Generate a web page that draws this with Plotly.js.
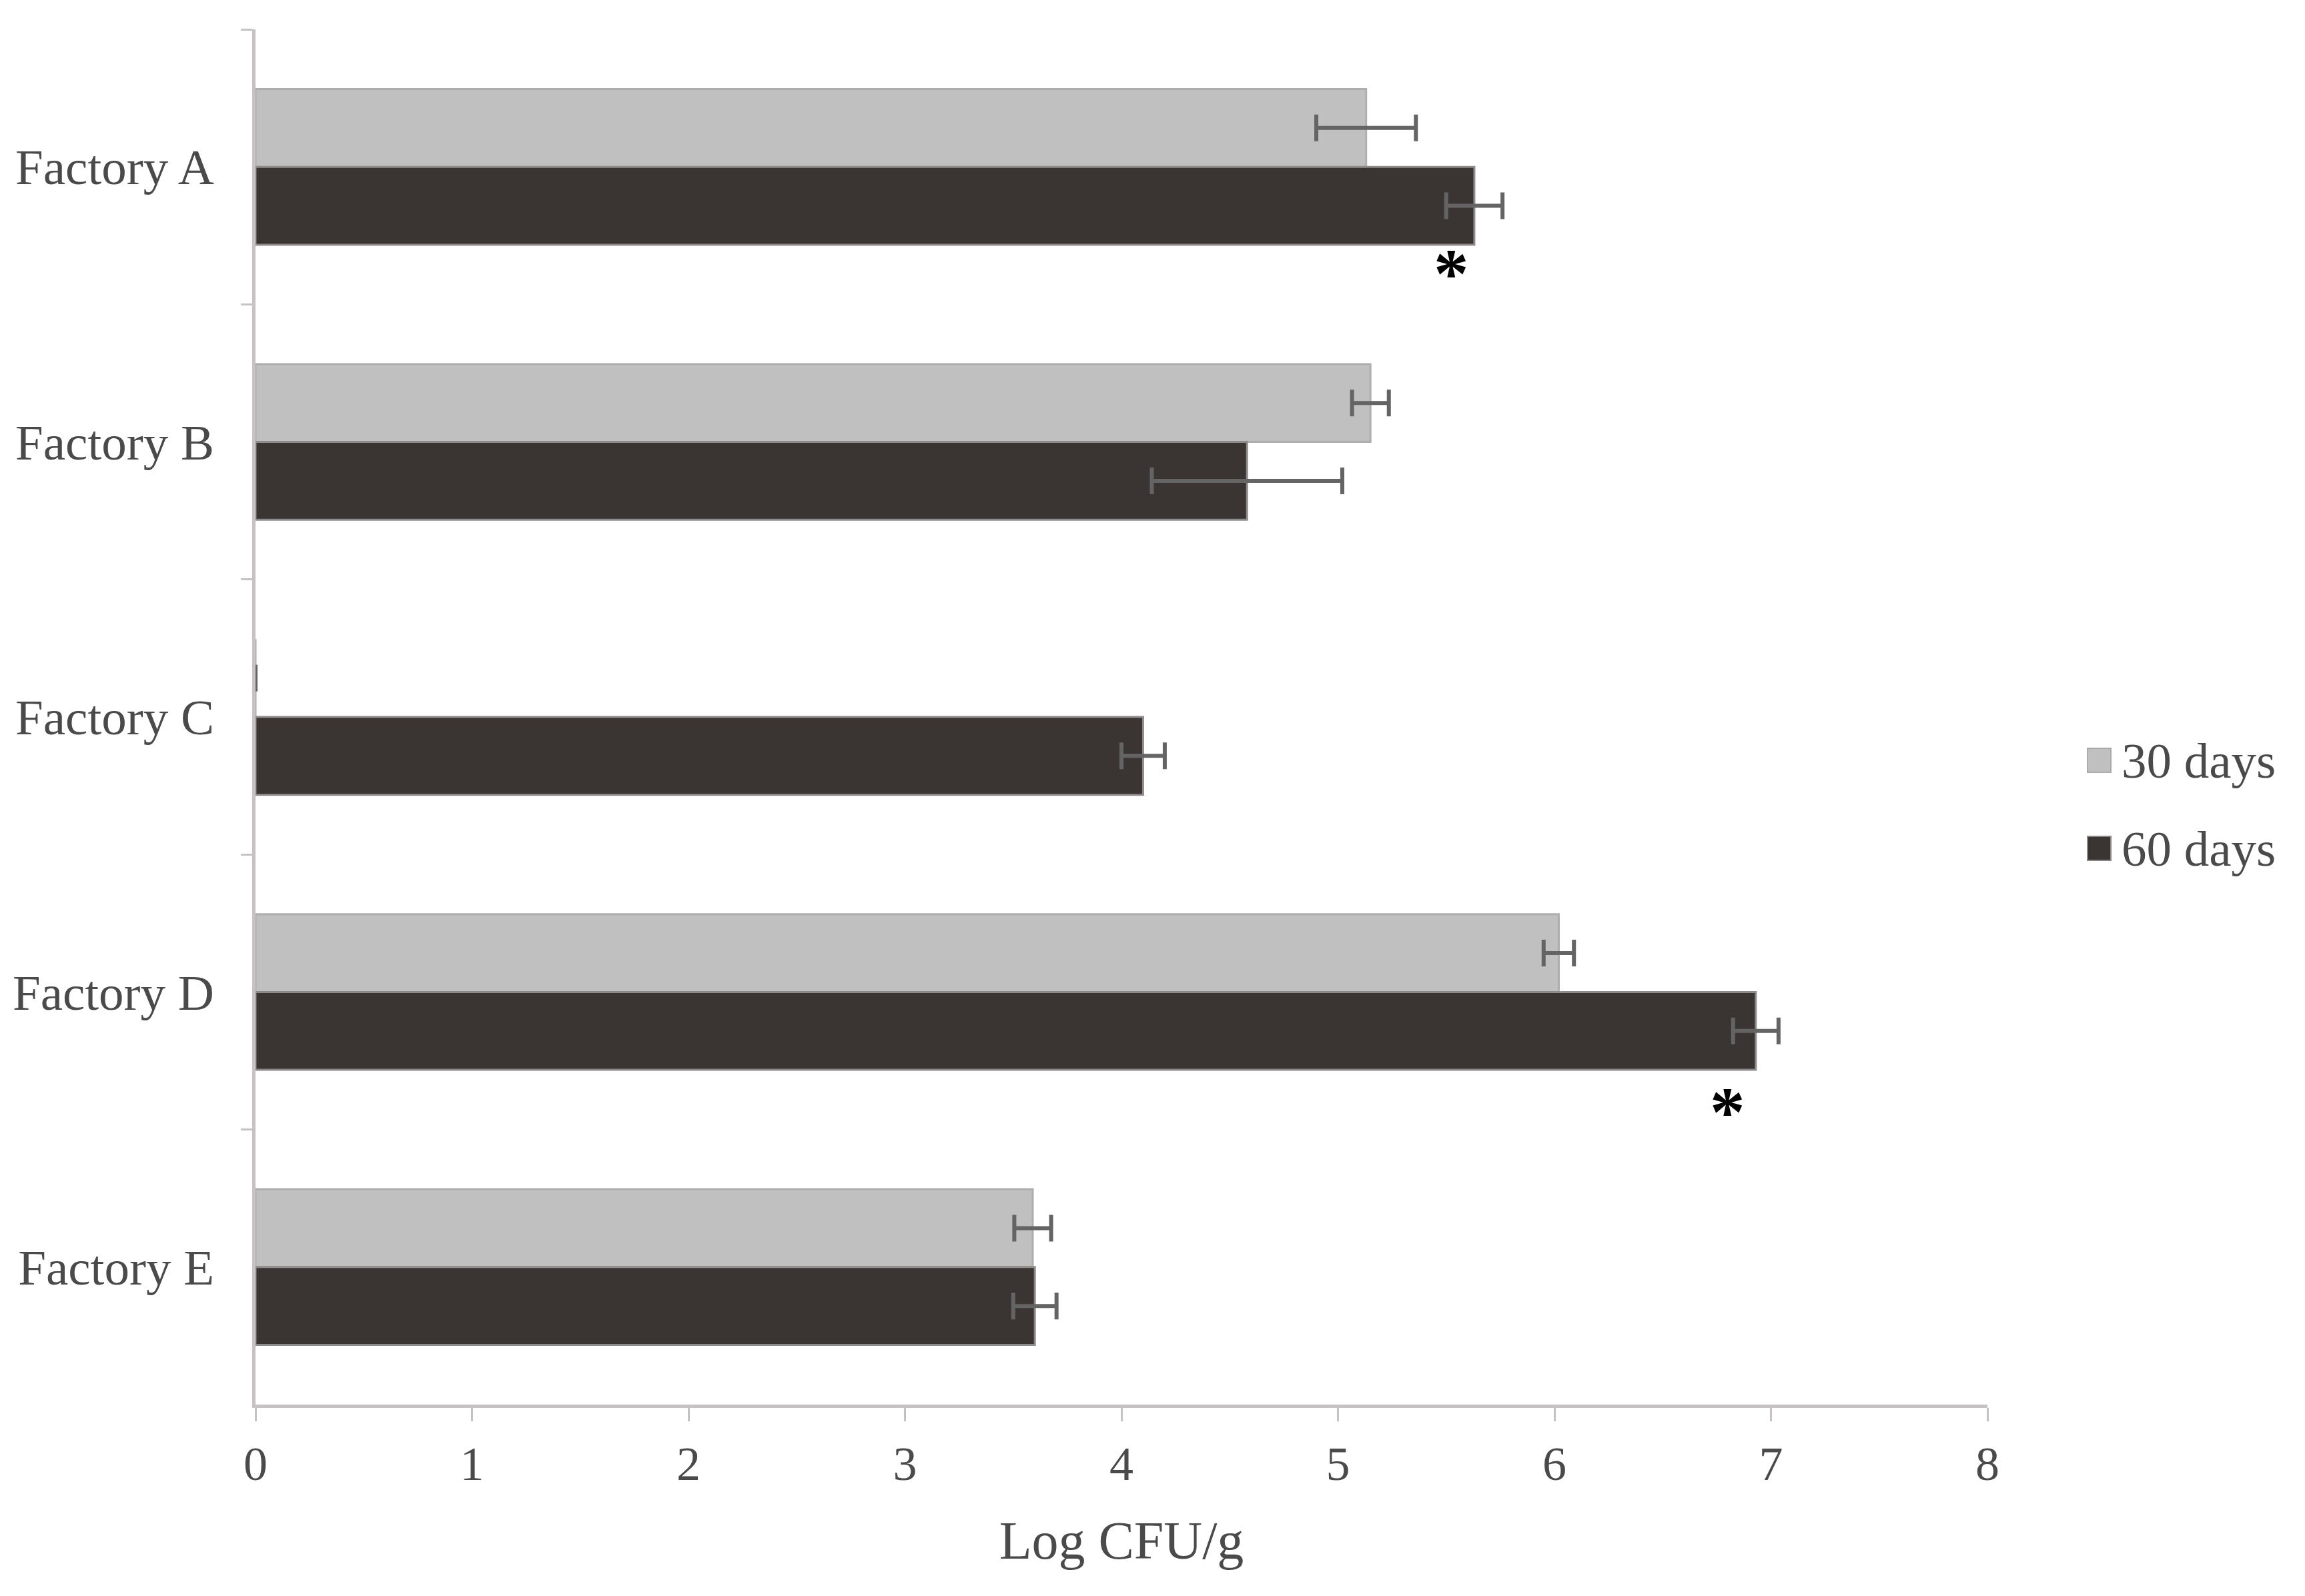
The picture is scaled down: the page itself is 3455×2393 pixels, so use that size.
<!DOCTYPE html>
<html>
<head>
<meta charset="utf-8">
<script src="https://cdn.plot.ly/plotly-3.0.1.min.js"></script>
<style>
  html, body { margin: 0; padding: 0; background: #ffffff; }
  #chart { width: 3455px; height: 2393px; }
</style>
</head>
<body>
<div id="chart"></div>
<script>
// ---- data ----
const factories = ["Factory A", "Factory B", "Factory C", "Factory D", "Factory E"];
const days30 = [5.13, 5.15, 0, 6.02, 3.59];
const days30Err = [0.23, 0.085, 0, 0.07, 0.085];
const days60 = [5.63, 4.58, 4.10, 6.93, 3.60];
const days60Err = [0.13, 0.44, 0.10, 0.105, 0.10];
const seriesNames = ["30 days", "60 days"];
const xTicks = [0, 1, 2, 3, 4, 5, 6, 7, 8];
const xTitle = "Log CFU/g";
// significance markers: [category, x position of marker]
const sigCategories = ["Factory A", "Factory D"];
const sigX = [5.525, 6.80];

const FONT = "Liberation Serif, Times New Roman, serif";
const TEXT = "#4a4a4a";
const LIGHT = "#c0c0c0";
const DARK = "#3a3533";

const traces = [
  {
    type: "bar", orientation: "h", name: seriesNames[0],
    y: factories, x: days30,
    marker: { color: LIGHT, line: { color: "#b0adad", width: 3 } },
    error_x: { type: "data", array: days30Err, visible: true, color: "#646464", thickness: 6, width: 20 },
    showlegend: false
  },
  {
    type: "bar", orientation: "h", name: seriesNames[1],
    y: factories, x: days60,
    marker: { color: DARK, line: { color: "#8f8b8b", width: 3 } },
    error_x: { type: "data", array: days60Err, visible: true, color: "#646464", thickness: 6, width: 20 },
    showlegend: false
  }
];

const L = 383, R = 476, T = 44, B = 287;
const W = 3455, H = 2393;
const pw = W - L - R, ph = H - T - B;
const px2x = p => (p - L) / pw;
const py2y = p => (H - B - p) / ph;

const annotations = [];
const yShifts = [-160, -180];
sigCategories.forEach((c, i) => {
  annotations.push({
    x: sigX[i], y: c, xref: "x", yref: "y", text: "*", showarrow: false,
    yshift: yShifts[i],
    font: { family: FONT, size: 105, color: "#000000", weight: "bold" }
  });
});

// custom legend (text + swatches)
const legColors = [LIGHT, DARK];
const legLines = ["#aaaaaa", "#8a8686"];
const legRowsY = [1140, 1272];
const shapes = [];
seriesNames.forEach((n, i) => {
  shapes.push({
    type: "rect", xref: "paper", yref: "paper",
    x0: px2x(3129), x1: px2x(3164),
    y0: py2y(legRowsY[i] + 18), y1: py2y(legRowsY[i] - 18),
    fillcolor: legColors[i], line: { color: legLines[i], width: 2 }
  });
  annotations.push({
    x: px2x(3178), y: py2y(legRowsY[i]), xref: "paper", yref: "paper",
    xanchor: "left", yanchor: "middle", text: n, showarrow: false,
    font: { family: FONT, size: 75, color: TEXT }
  });
});

const layout = {
  width: W, height: H,
  paper_bgcolor: "#ffffff", plot_bgcolor: "#ffffff",
  margin: { l: L, r: R, t: T, b: B, pad: 0 },
  barmode: "group", bargap: 0.434, bargroupgap: 0,
  showlegend: false,
  font: { family: FONT, size: 75, color: TEXT },
  xaxis: {
    range: [0, 8], tickvals: xTicks, ticktext: xTicks.map(String),
    showgrid: false, zeroline: false,
    showline: true, linecolor: "#c6c2c2", linewidth: 5,
    ticks: "outside", ticklen: 20, tickwidth: 3, tickcolor: "#c6c2c2",
    ticklabelstandoff: 2,
    tickfont: { family: FONT, size: 72, color: TEXT },
    title: { text: xTitle, font: { family: FONT, size: 80, color: TEXT }, standoff: 48 },
    automargin: false
  },
  yaxis: {
    type: "category", categoryarray: factories, categoryorder: "array",
    range: [factories.length - 0.5, -0.5], autorange: false,
    showgrid: false, zeroline: false,
    showline: true, linecolor: "#c6c2c2", linewidth: 5,
    ticks: "outside", tickson: "boundaries", ticklen: 17, tickwidth: 3, tickcolor: "#c6c2c2",
    ticklabelstandoff: 42,
    tickfont: { family: FONT, size: 75, color: TEXT },
    automargin: false
  },
  annotations: annotations,
  shapes: shapes
};

Plotly.newPlot("chart", traces, layout, { staticPlot: true, displayModeBar: false });
</script>
</body>
</html>
